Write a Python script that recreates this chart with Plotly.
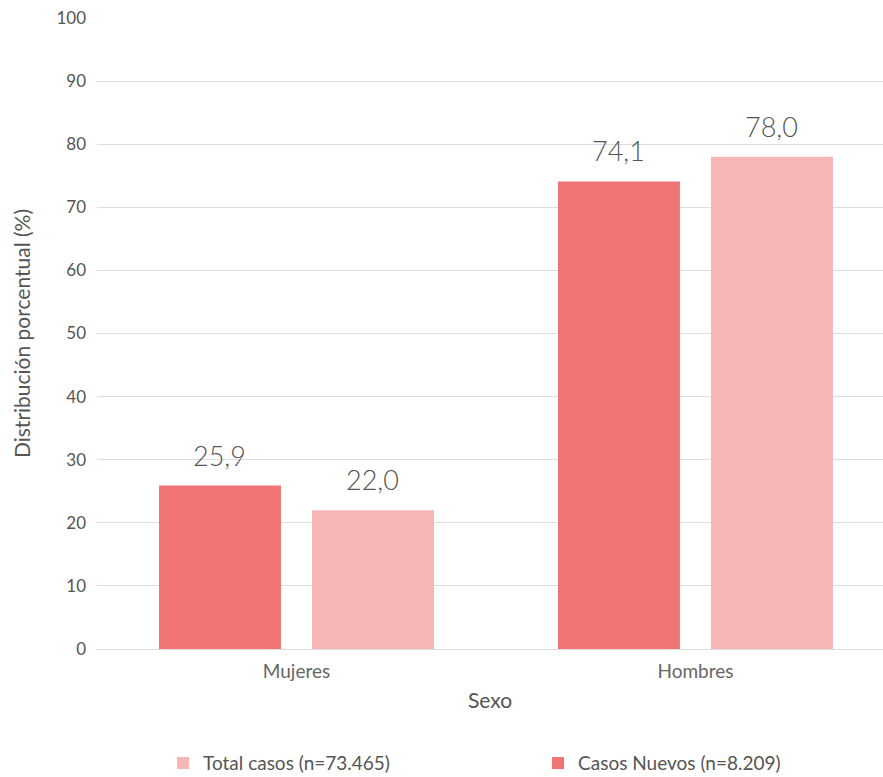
import plotly.graph_objects as go

categories = ["Mujeres", "Hombres"]
nuevos = [25.9, 74.1]
total = [22.0, 78.0]
nuevos_name = "Casos Nuevos (n=8.209)"
total_name = "Total casos (n=73.465)"
y_ticks = [0, 10, 20, 30, 40, 50, 60, 70, 80, 90, 100]

label_font = dict(family="Lato, sans-serif", size=27, color="#555555", weight=300)

fig = go.Figure()
fig.add_trace(go.Bar(
    x=categories, y=nuevos, name=nuevos_name,
    marker=dict(color="#F07474", line=dict(width=0)),
))
fig.add_trace(go.Bar(
    x=categories, y=total, name=total_name,
    marker=dict(color="#F7B6B6", line=dict(width=0)),
))

# value labels above bars
for series, shift in ((nuevos, -76.5), (total, 76.5)):
    for cat, v in zip(categories, series):
        fig.add_annotation(
            x=cat, y=v, xref="x", yref="y", text=f"{v:.1f}".replace(".", ","),
            showarrow=False, xshift=shift, yshift=12, yanchor="bottom",
            font=label_font,
        )

fig.update_layout(
    width=883, height=777,
    margin=dict(l=97, r=0, t=18, b=128, autoexpand=False),
    paper_bgcolor="white", plot_bgcolor="white",
    barmode="group", bargap=0.233, bargroupgap=0.203,
    font=dict(family="Lato, sans-serif", color="#555555"),
    xaxis=dict(
        range=[-0.5, 1.47], showgrid=False, showline=True, linecolor="#dddddd",
        linewidth=1, ticks="", tickfont=dict(size=19, color="#666666"),
        ticklabelstandoff=5, automargin=False,
        title=dict(text="Sexo", font=dict(size=21, color="#555555"), standoff=12),
    ),
    yaxis=dict(
        range=[0, 100], tickvals=y_ticks, showgrid=True, gridcolor="#dddddd",
        gridwidth=1, zeroline=False, ticks="", tickfont=dict(size=17, color="#555555"),
        ticklabelstandoff=10, automargin=False,
        title=dict(text="Distribución porcentual (%)", font=dict(size=21, color="#555555"), standoff=20),
    ),
    legend=dict(
        orientation="h", xref="paper", yref="paper",
        x=0.084, xanchor="left", y=-0.181, yanchor="middle",
        traceorder="reversed", entrywidth=330, entrywidthmode="pixels",
        font=dict(size=19, color="#555555"),
    ),
    showlegend=True,
)

fig.write_html("out.html", config={"displayModeBar": False},
               post_script="document.body.style.margin='0';")
